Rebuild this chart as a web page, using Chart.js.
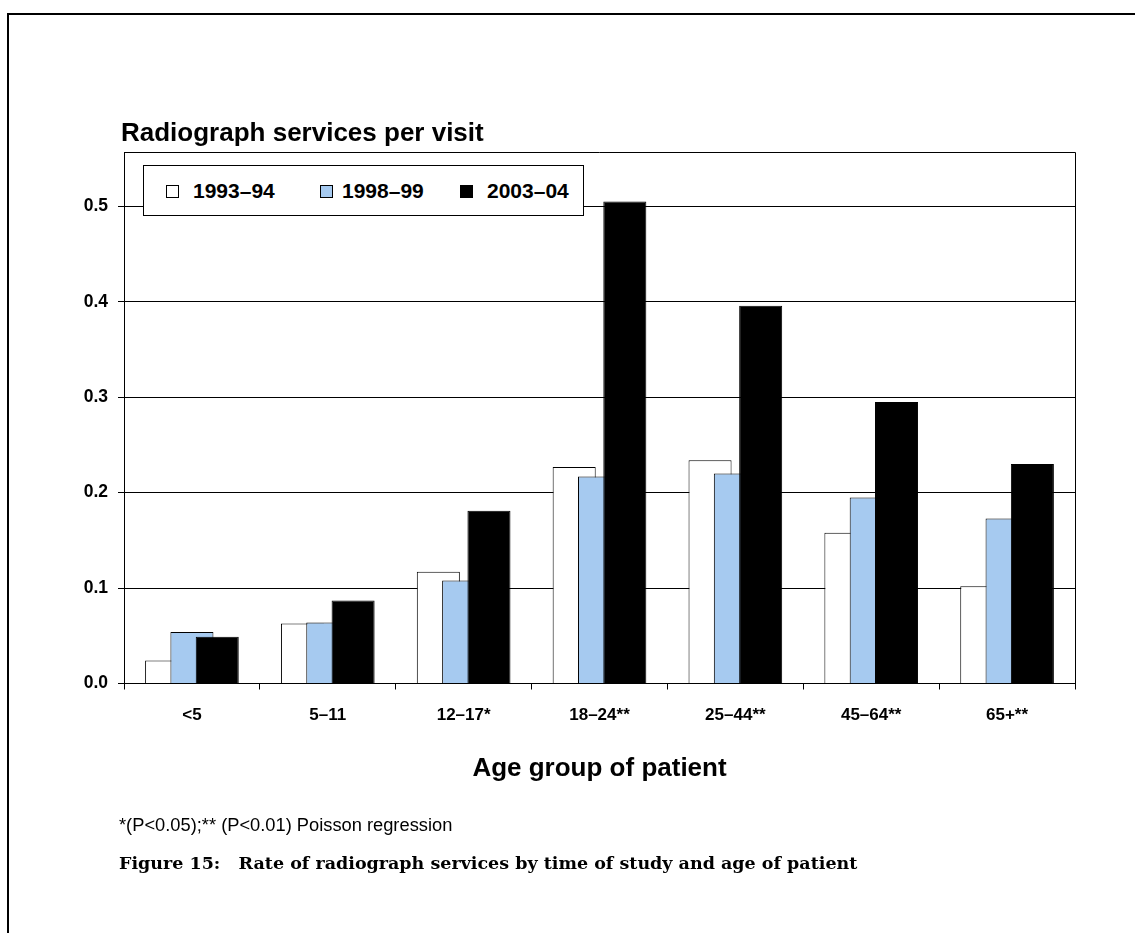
<!DOCTYPE html>
<html>
<head>
<meta charset="utf-8">
<script src="https://cdn.jsdelivr.net/npm/chart.js@4.4.0/dist/chart.umd.min.js"></script>
<style>
  body { margin:0; background:#fff; width:1135px; height:933px; overflow:hidden; position:relative;
         font-family:"Liberation Sans", Arial, sans-serif; color:#000; }
  #frame { position:absolute; left:7px; top:13px; width:1300px; height:1000px;
           border-top:2px solid #000; border-left:2px solid #000; }
  #wrap { position:absolute; left:0; top:0; width:1135px; height:933px; }
  .txt { position:absolute; white-space:pre; line-height:1; }
  #ytitle { left:121px; top:119px; font-size:26px; font-weight:bold; }
  #note { left:119px; top:816px; font-size:18.3px; }
  #caption { left:119px; top:855px; font-size:17.5px; font-weight:bold;
             font-family:"DejaVu Serif", "Liberation Serif", serif; }
  #legend { position:absolute; left:143px; top:165px; width:439px; height:49px;
            border:1px solid #000; background:#fff; }
  .sw { position:absolute; top:19px; width:11px; height:11px; border:1px solid #000; }
  .lt { position:absolute; top:14px; font-size:21px; font-weight:bold; line-height:1; }
</style>
</head>
<body>
<div id="frame"></div>
<div id="wrap"><canvas id="chart"></canvas></div>
<div class="txt" id="ytitle">Radiograph services per visit</div>
<div id="legend"></div>
<div class="txt" id="note">*(P&lt;0.05);** (P&lt;0.01) Poisson regression</div>
<div class="txt" id="caption">Figure 15:   Rate of radiograph services by time of study and age of patient</div>

<script>
// data
var ageGroups = ['<5', '5–11', '12–17*', '18–24**', '25–44**', '45–64**', '65+**'];
var seriesNames = ['1993–94', '1998–99', '2003–04'];
var rate9394 = [0.024, 0.063, 0.117, 0.227, 0.234, 0.158, 0.102];
var rate9899 = [0.054, 0.064, 0.108, 0.217, 0.220, 0.195, 0.173];
var rate0304 = [0.049, 0.087, 0.181, 0.505, 0.396, 0.295, 0.230];
var yTicks = [0, 0.1, 0.2, 0.3, 0.4, 0.5];

var fills = ['#ffffff', '#a6caf0', '#000000'];
var family = '"Liberation Sans", Arial, sans-serif';

// legend box (drawn in html, sits inside the plot)
var legendX = [[22, 49], [176, 198], [316, 343]];
var lg = document.getElementById('legend');
seriesNames.forEach(function(name, i){
    var sw = document.createElement('div');
    sw.className = 'sw';
    sw.style.left = legendX[i][0] + 'px';
    sw.style.background = fills[i];
    lg.appendChild(sw);
    var t = document.createElement('div');
    t.className = 'lt';
    t.style.left = legendX[i][1] + 'px';
    t.textContent = name;
    lg.appendChild(t);
});

// bars overlap, later series must sit on top
var drawInOrder = {
    id: 'drawInOrder',
    beforeDatasetsDraw: function(chart){
        chart.getSortedVisibleDatasetMetas().forEach(function(m){ m.controller.draw(); });
        return false;
    }
};

// box round the plot area
var plotBox = {
    id: 'plotBox',
    afterDraw: function(chart){
        var a = chart.chartArea, ctx = chart.ctx;
        ctx.save();
        ctx.strokeStyle = '#000';
        ctx.lineWidth = 1;
        ctx.beginPath();
        ctx.moveTo(a.left, a.top + 0.5);
        ctx.lineTo(a.right + 0.5, a.top + 0.5);
        ctx.lineTo(a.right + 0.5, a.bottom);
        ctx.stroke();
        ctx.restore();
    }
};

var series = [rate9394, rate9899, rate0304];
var datasets = series.map(function(vals, i){
    return {
        label: seriesNames[i],
        data: vals,
        backgroundColor: fills[i],
        borderColor: '#000',
        borderWidth: 1,
        categoryPercentage: 0.559,
        barPercentage: 1.70
    };
});

new Chart(document.getElementById('chart'), {
    type: 'bar',
    data: { labels: ageGroups, datasets: datasets },
    plugins: [drawInOrder, plotBox],
    options: {
        responsive: true,
        maintainAspectRatio: false,
        animation: false,
        layout: { padding: { left: 0, right: 60, top: 152, bottom: 148.5 } },
        plugins: { legend: { display: false }, tooltip: { enabled: false } },
        scales: {
            x: {
                border: { color: '#000', width: 1 },
                grid: { drawOnChartArea: false, tickLength: 6, color: '#000', offset: true },
                ticks: { color: '#000', font: { family: family, size: 17, weight: 'bold' },
                         padding: 16, maxRotation: 0, autoSkip: false },
                title: { display: true, text: 'Age group of patient', color: '#000', padding: 0,
                         font: { family: family, size: 26, weight: 'bold' } },
                afterFit: function(s){ s.height = 101; }
            },
            y: {
                min: 0,
                max: 0.557,
                afterBuildTicks: function(s){ s.ticks = yTicks.map(function(v){ return { value: v }; }); },
                afterFit: function(s){ s.width = 124; },
                border: { color: '#000', width: 1 },
                grid: { color: '#000', tickLength: 6 },
                ticks: { color: '#000', font: { family: family, size: 17.5, weight: 'bold' }, padding: 10,
                         callback: function(v){ return v.toFixed(1); } }
            }
        }
    }
});
</script>
</body>
</html>
